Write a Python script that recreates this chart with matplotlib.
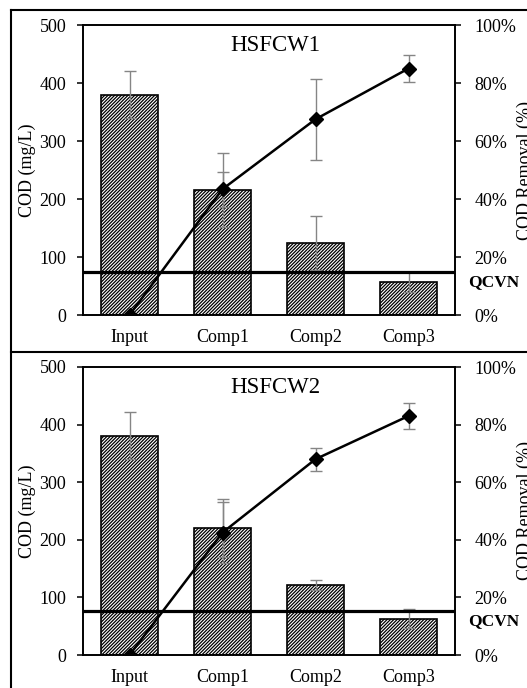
import matplotlib
matplotlib.use('Agg')
import matplotlib.pyplot as plt
from matplotlib.lines import Line2D
from matplotlib.ticker import FuncFormatter

plt.rcParams['font.family'] = ['Liberation Serif', 'DejaVu Serif']
plt.rcParams['hatch.linewidth'] = 0.9

# data
categories = ['Input', 'Comp1', 'Comp2', 'Comp3']
titles = ['HSFCW1', 'HSFCW2']

cod1 = [380, 216, 124, 57]
cod1_err = [40, 64, 47, 17]
rem1 = [0, 43.4, 67.5, 85]
rem1_err = [0, 6, 14, 4.5]

cod2 = [381, 221, 121, 63]
cod2_err = [41, 50, 9, 16]
rem2 = [0, 42.5, 68, 83]
rem2_err = [0, 10.5, 4, 4.4]

qcvn = [75, 77]

W, H = 527, 688
fig = plt.figure(figsize=(W / 100, H / 100), dpi=100)

# outer frame and separator
lw_frame = 1.5
fig.add_artist(Line2D([11 / W, 1.02], [1 - 10 / H, 1 - 10 / H], color='black', lw=lw_frame))
fig.add_artist(Line2D([11 / W, 11 / W], [-0.02, 1 - 10 / H], color='black', lw=lw_frame))
fig.add_artist(Line2D([11 / W, 1.02], [1 - 352 / H, 1 - 352 / H], color='black', lw=lw_frame))

panels = [
    (cod1, cod1_err, rem1, rem1_err, 25, 315),
    (cod2, cod2_err, rem2, rem2_err, 367, 655),
]

x = list(range(len(categories)))
fs = 13

for i, (cod, cod_err, rem, rem_err, top, bot) in enumerate(panels):
    ax = fig.add_axes([83 / W, 1 - bot / H, (455 - 83) / W, (bot - top) / H])
    ax.bar(x, cod, width=0.61, color='white', edgecolor='black', linewidth=1.2,
           hatch='//////////', zorder=2)
    ax.errorbar(x, cod, yerr=cod_err, fmt='none', ecolor='#858585', elinewidth=1.0,
                capsize=4, capthick=1.0, zorder=3)
    ax.axhline(qcvn[i], color='black', lw=2.3, zorder=4)
    ax.set_xlim(-0.5, 3.5)
    ax.set_ylim(0, 500)
    ax.set_yticks([0, 100, 200, 300, 400, 500])
    ax.set_xticks(x)
    ax.set_xticklabels(categories)
    ax.tick_params(axis='x', length=0, pad=10, labelsize=fs)
    ax.tick_params(axis='y', length=4, width=1.1, pad=8, labelsize=fs)
    for s in ax.spines.values():
        s.set_linewidth(1.2)
    ax.text(-0.15, 0.5, 'COD (mg/L)', transform=ax.transAxes, rotation=90,
            ha='center', va='center', fontsize=fs)
    ax.text(0.516, 0.93, titles[i], transform=ax.transAxes, ha='center', va='center',
            fontsize=16.5)
    ax.text(1.035, (qcvn[i] - 18) / 500, 'QCVN', transform=ax.transAxes, ha='left',
            va='center', fontsize=12.5, fontweight='bold')

    ax2 = ax.twinx()
    ax2.errorbar(x[1:], rem[1:], yerr=rem_err[1:], fmt='none', ecolor='#858585',
                 elinewidth=1.0, capsize=4, capthick=1.0, zorder=3)
    ax2.plot(x, rem, color='black', lw=1.8, marker='D', markersize=7.5, zorder=5)
    ax2.set_ylim(0, 100)
    ax2.set_yticks([0, 20, 40, 60, 80, 100])
    ax2.yaxis.set_major_formatter(FuncFormatter(lambda v, p: f'{v:.0f}%'))
    ax2.tick_params(axis='y', length=4, width=1.1, pad=10, labelsize=fs)
    for s in ax2.spines.values():
        s.set_linewidth(1.2)
    ycen = 1 - (top + bot) / 2 / H
    # label runs past the right edge, as in the original figure
    fig.text(517 / W, ycen, 'COD Removal (%)', rotation=90, ha='left', va='center',
             fontsize=fs)

fig.savefig('out.png', dpi=100)
